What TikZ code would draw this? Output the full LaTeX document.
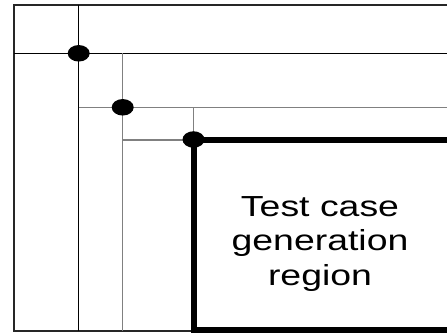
\documentclass[tikz,border=0pt]{standalone}
\usepackage{fontspec}
\usetikzlibrary{shapes.geometric}
\newfontfamily\labfont[FakeStretch=1.29]{Liberation Sans}
\begin{document}
\begin{tikzpicture}[x=1pt,y=-1pt,
  frame/.style={draw=black!85,line width=1.9pt},
  mainline/.style={draw=black,line width=1.5pt},
  greyline/.style={draw=black!50,line width=1.4pt},
  thickbox/.style={draw=black,line width=6pt},
  dot/.style={fill=black,draw=none,ellipse,minimum width=22pt,minimum height=16.5pt,inner sep=0pt},
  lab/.style={font=\labfont\fontsize{29}{34.3}\selectfont,align=center}]
\useasboundingbox (0,0) rectangle (447,336);
\clip (0,0) rectangle (447,336);
% outer frame
\coordinate (oTL) at (14,5);
\coordinate (oBR) at (452,331);
\draw[frame] (oTL) rectangle (oBR);
% level 1
\coordinate (v1t) at (78.7,5);
\coordinate (v1b) at (78.7,331);
\coordinate (h1l) at (14,53.3);
\coordinate (h1r) at (452,53.3);
\draw[mainline] (v1t) -- (v1b);
\draw[mainline] (h1l) -- (h1r);
% level 2
\coordinate (v2t) at (122.7,53.3);
\coordinate (v2b) at (122.7,331);
\coordinate (h2l) at (78.7,107.3);
\coordinate (h2r) at (452,107.3);
\draw[greyline] (v2t) -- (v2b);
\draw[greyline] (h2l) -- (h2r);
% level 3
\coordinate (v3t) at (193.5,107.3);
\coordinate (v3b) at (193.5,140);
\coordinate (h3l) at (122.7,140);
\coordinate (h3r) at (193.5,140);
\draw[greyline] (v3t) -- (v3b);
\draw[greyline] (h3l) -- (h3r);
% thick region box
\coordinate (bTL) at (193.5,140);
\coordinate (bBR) at (449.5,330.5);
\draw[thickbox] (bTL) rectangle (bBR);
% dots
\node[dot] (d1) at (78.7,53.3) {};
\node[dot] (d2) at (122.7,107.3) {};
\node[dot] (d3) at (193.5,139.5) {};
% label
\node[lab] (label) at (320,244) {Test case\\generation\\region};
\end{tikzpicture}
\end{document}
